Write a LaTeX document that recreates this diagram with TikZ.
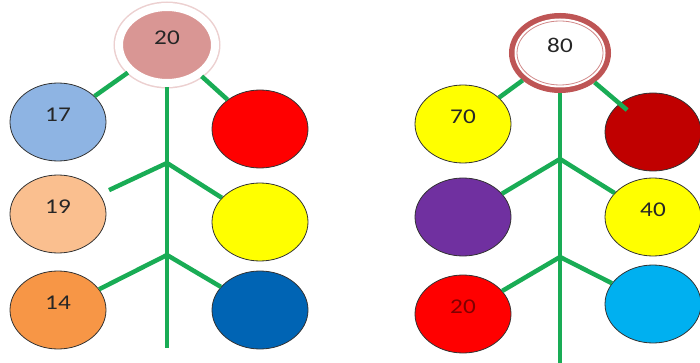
\documentclass[tikz,border=0pt]{standalone}
\usepackage{fontspec}
\newfontfamily\numfont{Carlito}[FakeStretch=1.2]
\usepackage{tikz}
\usetikzlibrary{shapes,arrows}
\usetikzlibrary{positioning}
\definecolor{stemgreen}{RGB}{25,172,85}
\definecolor{rosepink}{RGB}{217,150,148}
\definecolor{halopink}{RGB}{236,208,208}
\definecolor{ringred}{RGB}{190,85,85}
\definecolor{skyblue}{RGB}{142,180,227}
\definecolor{peach}{RGB}{250,191,143}
\definecolor{orangefill}{RGB}{247,150,70}
\definecolor{deepblue}{RGB}{0,100,180}
\definecolor{darkredfill}{RGB}{192,0,0}
\definecolor{purplefill}{RGB}{112,48,160}
\definecolor{cyanfill}{RGB}{0,176,240}
\definecolor{yellowfill}{RGB}{255,255,0}

\begin{document}
\begin{tikzpicture}[x=1pt, y=-1pt, on grid, auto]
% Define block styles
\tikzstyle{digits} = [font=\numfont\fontsize{21}{24}\selectfont, text=black!85,
    text height=13pt, text depth=14pt, inner sep=0pt]
\tikzstyle{leaf} = [ellipse, draw=black!80, line width=0.8pt, digits,
    minimum width=96pt, minimum height=78pt]
\tikzstyle{rootpink} = [ellipse, fill=rosepink, draw=white, line width=8pt, digits,
    preaction={draw=halopink, line width=11pt},
    minimum width=96pt, minimum height=76pt, outer sep=4pt]
\tikzstyle{rootring} = [ellipse, fill=white, draw=ringred!70, line width=0.8pt, digits,
    preaction={draw=ringred, line width=16pt}, preaction={draw=white, line width=5pt},
    minimum width=86pt, minimum height=64pt, outer sep=8pt]
\tikzstyle{branch} = [draw=stemgreen, line width=4.5pt]

    \useasboundingbox (0,0) rectangle (700,363);

    % Place nodes, left tree
    \node [rootpink] (root20) at (167,45) {20};
    \node [leaf, fill=skyblue, below left=77pt and 109pt of root20] (n17) {17};
    \node [leaf, fill=peach, below=92pt of n17] (n19) {19};
    \node [leaf, fill=orangefill, below=96pt of n19] (n14) {14};
    \node [leaf, fill=red, below right=84pt and 93pt of root20] (nRed) {};
    \node [leaf, fill=yellowfill, below=93pt of nRed] (nYellow) {};
    \node [leaf, fill=deepblue, below=88pt of nYellow] (nBlue) {};
    \coordinate (forkL1) at (167,163);
    \coordinate (forkL2) at (167,255);
    \coordinate (baseL) at (167,348);

    % Place nodes, right tree
    \node [rootring] (root80) at (560,53) {80};
    \node [leaf, fill=yellowfill, below left=71pt and 97pt of root80] (n70) {70};
    \node [leaf, fill=purplefill, below=93pt of n70] (nPurple) {};
    \node [leaf, fill=red, text=red!50!black, below=97pt of nPurple] (n20) {20};
    \node [leaf, fill=darkredfill, below right=79pt and 93pt of root80] (nDarkRed) {};
    \node [leaf, fill=yellowfill, below=85pt of nDarkRed] (n40) {40};
    \node [leaf, fill=cyanfill, below=87pt of n40] (nCyan) {};
    \coordinate (forkR1) at (560,159);
    \coordinate (forkR2) at (560,257);
    \coordinate (baseR) at (560,363);

    % Draw edges
    \path [branch] (root20) -- (baseL);
    \path [branch] (root20) -- (n17);
    \path [branch] (root20) -- (nRed);
    \path [branch, shorten >=10pt] (forkL1) -- (n19);
    \path [branch] (forkL1) -- (nYellow);
    \path [branch] (forkL2) -- (n14);
    \path [branch] (forkL2) -- (nBlue);
    \path [branch] (root80) -- (baseR);
    \path [branch] (root80) -- (n70);
    \path [branch, shorten >=-10pt] (root80) -- (nDarkRed);
    \path [branch] (forkR1) -- (nPurple);
    \path [branch] (forkR1) -- (n40);
    \path [branch] (forkR2) -- (n20);
    \path [branch] (forkR2) -- (nCyan);
\end{tikzpicture}
\end{document}
